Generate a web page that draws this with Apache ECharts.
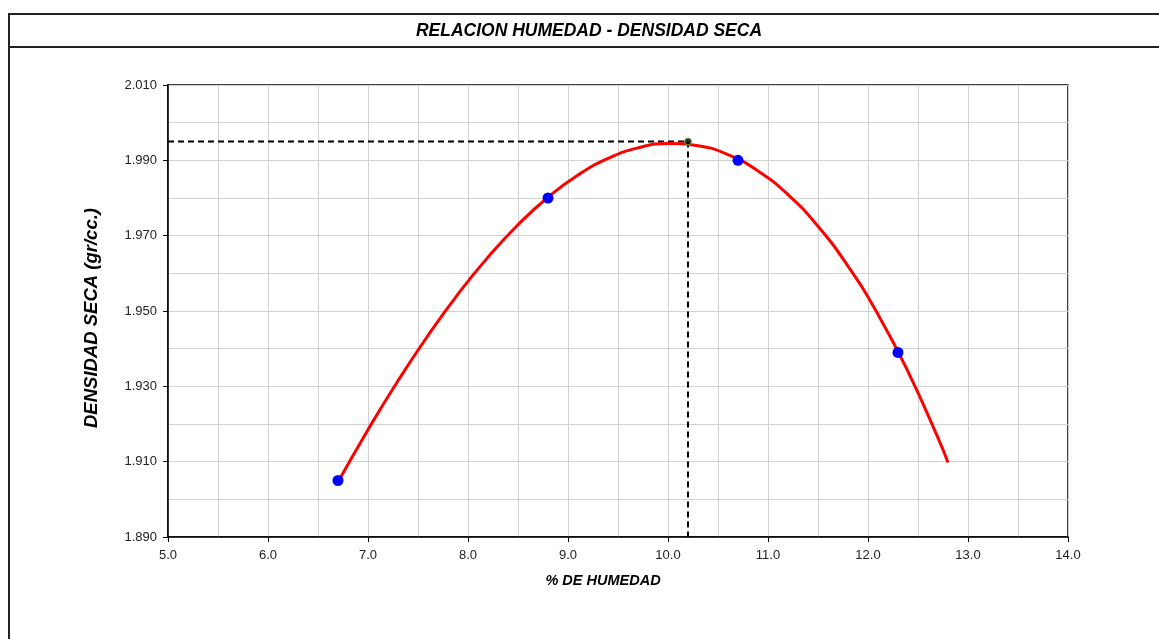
<!DOCTYPE html>
<html>
<head>
<meta charset="utf-8">
<script src="https://cdn.jsdelivr.net/npm/echarts@6/dist/echarts.min.js"></script>
<style>
html,body{margin:0;padding:0;background:#fff;}
#chart{width:1159px;height:639px;}
</style>
</head>
<body>
<div id="chart"></div>
<script>
// Measured points (% humedad, densidad seca)
const humedad = [6.7, 8.8, 10.7, 12.3];
const densidad = [1.905, 1.980, 1.990, 1.939];

// Fitted curve, values
const curvaX = [6.7, 7.0, 7.3, 7.6, 7.9, 8.2, 8.5, 8.8, 9.1, 9.4, 9.7, 10.0, 10.3, 10.6, 10.9, 11.2, 11.5, 11.8, 12.1, 12.4, 12.7, 12.8];
const curvaY = [1.9046, 1.9185, 1.9315, 1.9435, 1.9545, 1.9643, 1.9729, 1.9802, 1.9861, 1.9905, 1.9933, 1.9945, 1.9939, 1.9915, 1.9872, 1.9809, 1.9725, 1.9619, 1.9491, 1.9339, 1.9163, 1.9098];

// Optimum (óptimo contenido de humedad, máxima densidad seca)
const optHumedad = 10.2;
const maxDensidad = 1.995;

// Axis settings
const xMin = 5.0, xMax = 14.0, xStep = 1.0;
const yMin = 1.890, yMax = 2.010, yStep = 0.020;

const titleText = 'RELACION HUMEDAD - DENSIDAD SECA';
const xName = '% DE HUMEDAD';
const yName = 'DENSIDAD SECA (gr/cc.)';

const chart = echarts.init(document.getElementById('chart'), null, {renderer: 'canvas'});

const gridColor = '#d2d2d2';
const FONT = 'Liberation Sans, Arial, sans-serif';

chart.setOption({
  backgroundColor: '#fff',
  animation: false,
  graphic: [
    {type: 'rect', shape: {x: 9, y: 14, width: 1160, height: 640}, style: {fill: 'none', stroke: '#222', lineWidth: 2}, silent: true},
    {type: 'line', shape: {x1: 9, y1: 47, x2: 1159, y2: 47}, style: {stroke: '#222', lineWidth: 2}, silent: true},
    {type: 'text', x: 589, y: 31, style: {text: titleText, align: 'center', verticalAlign: 'middle', fontFamily: FONT, fontWeight: 'bold', fontStyle: 'italic', fontSize: 17.5, fill: '#000'}},
    {type: 'text', x: 603, y: 581, style: {text: xName, align: 'center', verticalAlign: 'middle', fontFamily: FONT, fontWeight: 'bold', fontStyle: 'italic', fontSize: 14.5, fill: '#000'}},
    {type: 'text', x: 92, y: 318, rotation: Math.PI / 2, style: {text: yName, align: 'center', verticalAlign: 'middle', fontFamily: FONT, fontWeight: 'bold', fontStyle: 'italic', fontSize: 18.5, fill: '#000'}}
  ],
  grid: {left: 168, right: 91, top: 85, bottom: 102, show: true, borderColor: '#000', borderWidth: 1.5, backgroundColor: 'transparent'},
  xAxis: {
    type: 'value', min: xMin, max: xMax, interval: xStep,
    axisLine: {show: true, lineStyle: {color: '#000', width: 1.5}},
    axisTick: {show: true, length: 5, lineStyle: {color: '#000'}},
    axisLabel: {formatter: v => v.toFixed(1), fontFamily: FONT, fontSize: 13, color: '#222', margin: 12},
    splitLine: {show: true, lineStyle: {color: gridColor, width: 1}},
    minorTick: {show: false, splitNumber: 2},
    minorSplitLine: {show: true, lineStyle: {color: gridColor, width: 1}}
  },
  yAxis: {
    type: 'value', min: yMin, max: yMax, interval: yStep,
    axisLine: {show: true, lineStyle: {color: '#000', width: 1.5}},
    axisTick: {show: true, length: 5, lineStyle: {color: '#000'}},
    axisLabel: {formatter: v => v.toFixed(3), fontFamily: FONT, fontSize: 13, color: '#222', margin: 11},
    splitLine: {show: true, lineStyle: {color: gridColor, width: 1}},
    minorTick: {show: false, splitNumber: 2},
    minorSplitLine: {show: true, lineStyle: {color: gridColor, width: 1}}
  },
  series: [
    {
      type: 'line', name: 'guia',
      data: [[xMin, maxDensidad], [optHumedad, maxDensidad], [optHumedad, yMin]],
      symbol: 'none', lineStyle: {color: '#000', width: 2, type: [6, 4]}, z: 3
    },
    {
      type: 'line', name: 'curva',
      data: curvaX.map((x, i) => [x, curvaY[i]]),
      smooth: 0.5, symbol: 'none',
      lineStyle: {color: '#ff0000', width: 3}, z: 4
    },
    {
      type: 'scatter', name: 'ensayos',
      data: humedad.map((x, i) => [x, densidad[i]]),
      symbol: 'circle', symbolSize: 11,
      itemStyle: {color: '#0000ff', opacity: 1}, z: 5
    },
    {
      type: 'scatter', name: 'optimo',
      data: [[optHumedad, maxDensidad]],
      symbol: 'circle', symbolSize: 7,
      itemStyle: {color: '#000', borderColor: '#7ab648', borderWidth: 1}, z: 6
    }
  ]
});
</script>
</body>
</html>
